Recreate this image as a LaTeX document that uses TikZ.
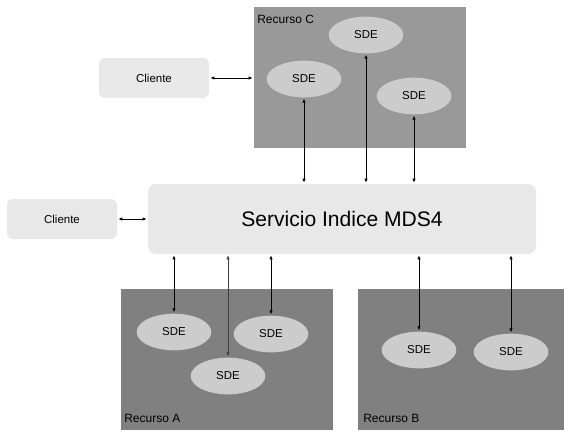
\documentclass[tikz,border=0pt]{standalone}
\usepackage{fontspec}
\setmainfont{Liberation Sans}
\usetikzlibrary{arrows.meta,shapes.geometric}

\definecolor{cajaclara}{gray}{0.91}
\definecolor{sdegris}{gray}{0.80}
\definecolor{recursoC}{gray}{0.60}
\definecolor{recursoAB}{gray}{0.50}

\begin{document}
\begin{tikzpicture}[x=0.75pt, y=-0.75pt, >={Latex[length=3pt,width=2.6pt]},
    recurso/.style={fill=#1, inner sep=0pt, minimum height=105.75pt},
    sde/.style={ellipse, fill=sdegris, inner sep=0pt, minimum width=56pt,
                minimum height=27.5pt, font=\fontsize{8.6}{10}\selectfont},
    cliente/.style={rounded corners=4.5pt, fill=cajaclara, inner sep=0pt,
                    minimum width=82.5pt, minimum height=30pt,
                    font=\fontsize{8.6}{10}\selectfont},
    rlabel/.style={anchor=west, inner sep=0pt, font=\fontsize{9}{10}\selectfont},
    enlace/.style={<->, line width=0.6pt, shorten <=0.8pt, shorten >=0.8pt}]
  \useasboundingbox[fill=white] (0,0) rectangle (564,432);

  % recursos
  \node[recurso=recursoC, minimum width=159pt] (recC) at (360,77.5) {};
  \node[recurso=recursoAB, minimum width=159pt] (recA) at (227,359.5) {};
  \node[recurso=recursoAB, minimum width=154.5pt] (recB) at (461,359) {};
  \node[rlabel] (labC) at (257,19) {Recurso C};
  \node[rlabel] (labA) at (124,418) {Recurso A};
  \node[rlabel] (labB) at (363,418) {Recurso B};

  % servicio y clientes
  \node[cliente, rounded corners=6pt, minimum width=291pt, minimum height=52.5pt,
        font=\fontsize{15.8}{18}\selectfont] (svc) at (342,219) {Servicio Indice MDS4};
  \node[cliente] (cli1) at (154,78) {Cliente};
  \node[cliente] (cli2) at (62,219) {Cliente};

  % SDE
  \node[sde] (c1) at (304,79) {SDE};
  \node[sde] (c2) at (366,35) {SDE};
  \node[sde] (c3) at (414,96) {SDE};
  \node[sde] (a1) at (174,332) {SDE};
  \node[sde] (a2) at (228,376) {SDE};
  \node[sde] (a3) at (271,334) {SDE};
  \node[sde] (b1) at (419,350) {SDE};
  \node[sde] (b2) at (511,352) {SDE};

  \draw[enlace] (cli1.east) -- (cli1.east -| recC.west);
  \draw[enlace] (cli2) -- (svc);
  \foreach \s in {c1,c2,c3}
    \draw[enlace] (\s.south) -- (\s.south |- svc.north);
  \foreach \s in {a1,a3,b1,b2}
    \draw[enlace] (\s.north) -- (\s.north |- svc.south);
  \draw[enlace, black!75, line width=0.45pt] (a2.north) -- (a2.north |- svc.south);
\end{tikzpicture}
\end{document}
